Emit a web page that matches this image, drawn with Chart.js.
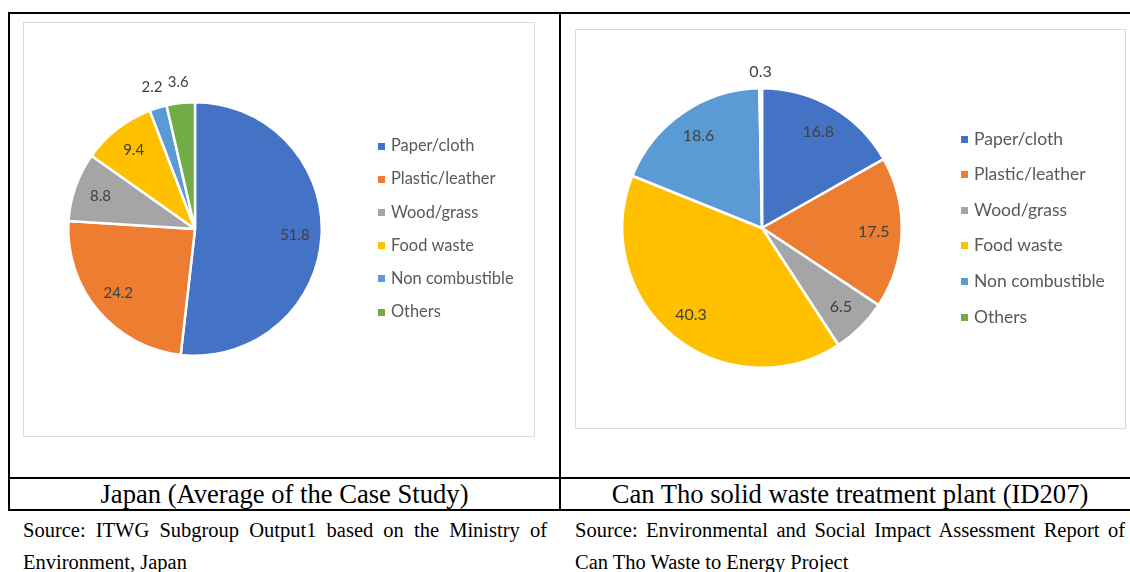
<!DOCTYPE html>
<html><head><meta charset="utf-8">
<script src="https://cdn.jsdelivr.net/npm/chart.js@4.4.0/dist/chart.umd.min.js"></script>
<style>
body{margin:0;width:1130px;height:572px;overflow:hidden;background:#fff;position:relative;font-family:"Liberation Serif","Times New Roman",serif;}
.ln{position:absolute;background:#000;}
.box{position:absolute;border:1px solid #d9d9d9;box-sizing:border-box;}
.cw{position:absolute;}
.cap{position:absolute;text-align:center;font-size:26.6px;color:#000;line-height:31px;white-space:nowrap;}
.src{position:absolute;font-size:20.5px;line-height:32px;text-align:justify;color:#000;}
</style></head>
<body>
<div class="ln" style="left:8px;top:12px;width:1130px;height:2px"></div>
<div class="ln" style="left:8px;top:12px;width:2px;height:499px"></div>
<div class="ln" style="left:559px;top:12px;width:2px;height:499px"></div>
<div class="ln" style="left:8px;top:477px;width:1130px;height:2px"></div>
<div class="ln" style="left:8px;top:509px;width:1130px;height:2px"></div>

<div class="box" style="left:23px;top:22px;width:512px;height:415px"></div>
<div class="box" style="left:575px;top:29px;width:551px;height:400px"></div>
<div class="cw" style="left:23px;top:22px;width:512px;height:415px"><canvas id="c1" width="512" height="415"></canvas></div>
<div class="cw" style="left:575px;top:29px;width:551px;height:400px"><canvas id="c2" width="551" height="400"></canvas></div>

<div class="cap" style="left:10px;top:479px;width:549px" id="cap1"></div>
<div class="cap" style="left:561px;top:479px;width:578px" id="cap2"></div>
<div class="src" style="left:23px;top:514px;width:524px" id="src1"></div>
<div class="src" style="left:575px;top:514px;width:550px" id="src2"></div>

<script>
const categories = ["Paper/cloth", "Plastic/leather", "Wood/grass", "Food waste", "Non combustible", "Others"];
const japanValues = [51.8, 24.2, 8.8, 9.4, 2.2, 3.6];
const canthoValues = [16.8, 17.5, 6.5, 40.3, 18.6, 0.3];
const sliceColors = ["#4472C4", "#ED7D31", "#A5A5A5", "#FFC000", "#5B9BD5", "#70AD47"];
const captions = ["Japan (Average of the Case Study)", "Can Tho solid waste treatment plant (ID207)"];
const sources = ["Source: ITWG Subgroup Output1 based on the Ministry of Environment, Japan",
                 "Source: Environmental and Social Impact Assessment Report of Can Tho Waste to Energy Project"];

document.getElementById('cap1').textContent = captions[0];
document.getElementById('cap2').textContent = captions[1];
document.getElementById('src1').textContent = sources[0];
document.getElementById('src2').textContent = sources[1];

const labelPlugin = {
  id: 'sliceLabels',
  afterDatasetsDraw(chart, args, opts) {
    const ctx = chart.ctx;
    const meta = chart.getDatasetMeta(0);
    const data = chart.data.datasets[0].data;
    ctx.save();
    ctx.font = opts.fontSize + 'px Lato, "Open Sans", sans-serif';
    ctx.fillStyle = '#404040';
    ctx.textAlign = 'center';
    ctx.textBaseline = 'middle';
    meta.data.forEach((arc, i) => {
      const p = arc.getProps(['x','y','startAngle','endAngle','outerRadius'], true);
      const mid = (p.startAngle + p.endAngle) / 2;
      const outside = data[i] < 5;
      const r = outside ? p.outerRadius + opts.outside : p.outerRadius * opts.inside;
      let x = p.x + Math.cos(mid) * r;
      const y = p.y + Math.sin(mid) * r;
      ctx.fillText(String(data[i]), x, y);
    });
    ctx.restore();
  }
};

const legendPlugin = {
  id: 'sideLegend',
  afterDraw(chart, args, opts) {
    const ctx = chart.ctx;
    const ds = chart.data.datasets[0];
    ctx.save();
    ctx.font = opts.fontSize + 'px Lato, "Open Sans", sans-serif';
    ctx.textBaseline = 'middle';
    ctx.textAlign = 'left';
    chart.data.labels.forEach((lab, i) => {
      const y = opts.y + i * opts.step;
      ctx.fillStyle = ds.backgroundColor[i];
      ctx.fillRect(opts.x, Math.round(y - 3.5), 7, 7);
      ctx.fillStyle = '#595959';
      ctx.fillText(lab, opts.x + 13, y);
    });
    ctx.restore();
  }
};

function makePie(id, values, padding, lbl, leg) {
  return new Chart(document.getElementById(id), {
    type: 'pie',
    data: { labels: categories, datasets: [{ data: values, backgroundColor: sliceColors, borderColor: '#ffffff', borderWidth: 2.5 }] },
    options: {
      responsive: false, animation: false,
      layout: { padding: padding },
      plugins: { legend: { display: false }, tooltip: { enabled: false }, sliceLabels: lbl, sideLegend: leg }
    },
    plugins: [labelPlugin, legendPlugin]
  });
}

makePie('c1', japanValues, {left:44, top:79, right:212, bottom:80},
  {fontSize: 15, inside: 0.79, outside: 21}, {x: 355, y: 124, step: 33.2, fontSize: 16.4});
makePie('c2', canthoValues, {left:46, top:58, right:223, bottom:60},
  {fontSize: 16, inside: 0.8, outside: 16}, {x: 386, y: 110, step: 35.6, fontSize: 17.5});
</script>
</body></html>
